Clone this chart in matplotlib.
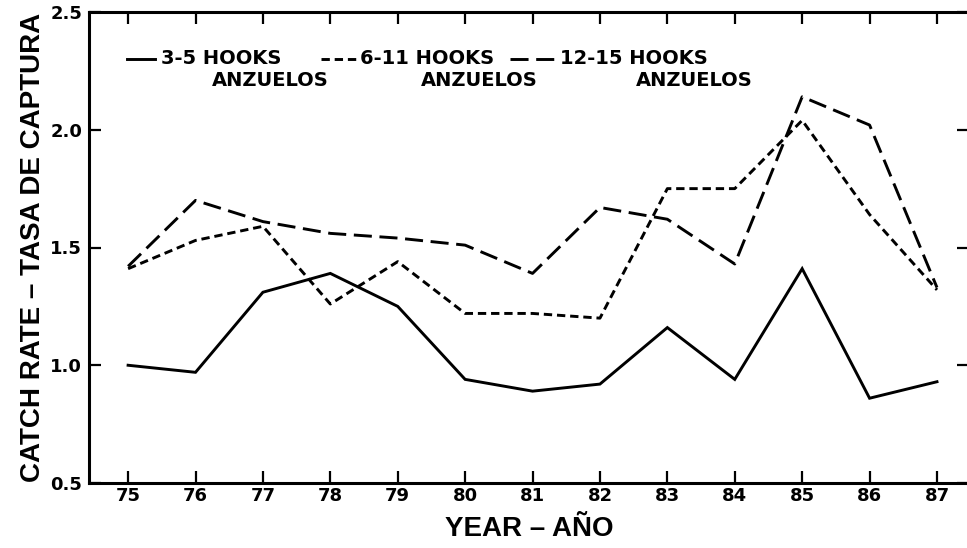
import matplotlib
matplotlib.use("Agg")
import matplotlib.pyplot as plt
from matplotlib.lines import Line2D

plt.rcParams['font.family'] = ['Liberation Sans', 'DejaVu Sans']
plt.rcParams['font.weight'] = 'bold'
plt.rcParams['lines.scale_dashes'] = False

years = [75, 76, 77, 78, 79, 80, 81, 82, 83, 84, 85, 86, 87]
year_labels = [str(y) for y in years]
hooks_3_5 = [1.00, 0.97, 1.31, 1.39, 1.25, 0.94, 0.89, 0.92, 1.16, 0.94, 1.41, 0.86, 0.93]
hooks_6_11 = [1.41, 1.53, 1.59, 1.26, 1.44, 1.22, 1.22, 1.20, 1.75, 1.75, 2.04, 1.64, 1.32]
hooks_12_15 = [1.42, 1.70, 1.61, 1.56, 1.54, 1.51, 1.39, 1.67, 1.62, 1.43, 2.14, 2.02, 1.33]
y_ticks = [0.5, 1.0, 1.5, 2.0, 2.5]
legend_names = ["3-5 HOOKS", "6-11 HOOKS", "12-15 HOOKS"]
legend_sub = "ANZUELOS"

W, H = 967, 548
fig = plt.figure(figsize=(W / 100, H / 100), dpi=100)
left_px, right_px, top_px, bot_px = 89, 969, 12, 483
ax = fig.add_axes([left_px / W, (H - bot_px) / H, (right_px - left_px) / W, (bot_px - top_px) / H])

lw = 2.1
short_dash = (6, 3.5)
long_dash = (13, 5.5)
ax.plot(years, hooks_3_5, color='black', lw=lw, solid_joinstyle='miter')
ax.plot(years, hooks_6_11, color='black', lw=lw, linestyle=(0, short_dash))
ax.plot(years, hooks_12_15, color='black', lw=lw, linestyle=(0, long_dash))

ax.set_xlim(74.42, 87.475)
ax.set_ylim(0.5, 2.5)
ax.set_xticks(years)
ax.set_xticklabels(year_labels)
ax.set_yticks(y_ticks)
ax.set_yticklabels([f"{v:.1f}" for v in y_ticks])
ax.tick_params(axis='both', direction='in', length=8.5, width=1.6,
               top=True, right=True)
ax.tick_params(axis='x', pad=3)
ax.tick_params(axis='y', pad=5)
for s in ax.spines.values():
    s.set_linewidth(2.2)
for t in ax.get_xticklabels() + ax.get_yticklabels():
    t.set_fontfamily('DejaVu Sans')
    t.set_fontweight('bold')
    t.set_fontsize(13)

ax.set_xlabel("YEAR – AÑO", fontsize=20, fontweight='bold', labelpad=8)
ax.set_ylabel("CATCH RATE – TASA DE CAPTURA", fontsize=20, fontweight='bold', labelpad=3)

# legend drawn manually (pixel positions converted to axes fraction)
def ax_x(px):
    return (px - left_px) / (right_px - left_px)

def ax_y(py):
    return (bot_px - py) / (bot_px - top_px)

styles = ['-', (0, short_dash), (0, long_dash)]
line_spans = [(127, 155), (321, 358), (510, 556)]
text_x = [161, 360, 560]
sub_x = [212, 421, 636]
for i in range(3):
    ax.add_line(Line2D([ax_x(line_spans[i][0]), ax_x(line_spans[i][1])], [ax_y(59), ax_y(59)],
                       transform=ax.transAxes, color='black', lw=lw, linestyle=styles[i]))
    ax.text(ax_x(text_x[i]), ax_y(58), legend_names[i], transform=ax.transAxes,
            fontsize=14, fontweight='bold', va='center', ha='left', family='DejaVu Sans')
    ax.text(ax_x(sub_x[i]), ax_y(81), legend_sub, transform=ax.transAxes,
            fontsize=14, fontweight='bold', va='center', ha='left', family='DejaVu Sans')

fig.savefig("out.png", dpi=100)
